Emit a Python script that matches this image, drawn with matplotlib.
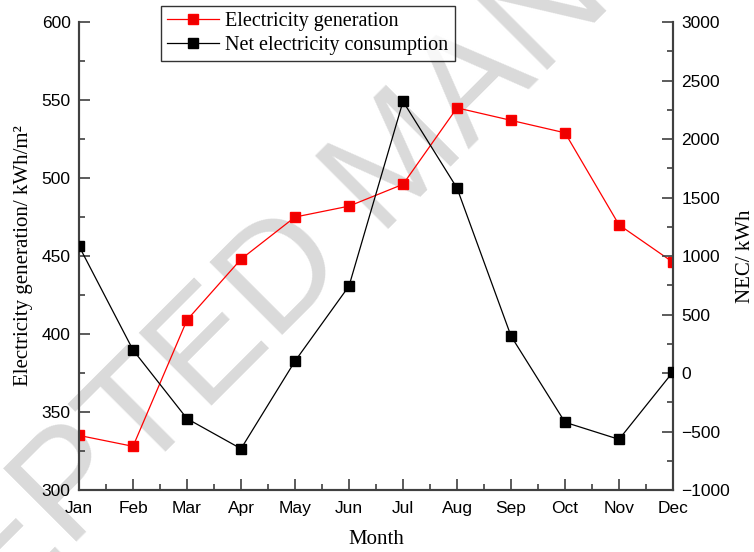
import matplotlib
matplotlib.use("Agg")
import matplotlib.pyplot as plt
from matplotlib.ticker import MultipleLocator

# Data
months = ["Jan", "Feb", "Mar", "Apr", "May", "Jun",
          "Jul", "Aug", "Sep", "Oct", "Nov", "Dec"]
generation = [335, 328, 409, 448, 475, 482, 496, 545, 537, 529, 470, 446]   # kWh/m2
nec = [1085, 197, -390, -647, 102, 744, 2322, 1581, 316, -421, -567, 10]     # kWh

serif = "Liberation Serif"
sans = "Liberation Sans"
spine_col = "#404040"

fig = plt.figure(figsize=(7.54, 5.52), dpi=100)
ax = fig.add_axes([0.1048, 0.1123, 0.7878, 0.8477])
ax2 = ax.twinx()

x = list(range(len(months)))
l1, = ax.plot(x, generation, color="#ff0000", lw=0.9, marker="s", ms=6.5,
              mec="#ff0000", mfc="#ee0000", label="Electricity generation", zorder=3)
l2, = ax2.plot(x, nec, color="black", lw=0.9, marker="s", ms=6.5,
               label="Net electricity consumption", zorder=3)

ax.set_xlim(0, 11)
ax.set_ylim(300, 600)
ax2.set_ylim(-1000, 3000)

ax.set_xticks(x)
ax.set_xticklabels(months)
ax.xaxis.set_minor_locator(MultipleLocator(0.5))
ax.yaxis.set_major_locator(MultipleLocator(50))
ax.yaxis.set_minor_locator(MultipleLocator(25))
ax2.yaxis.set_major_locator(MultipleLocator(500))
ax2.yaxis.set_minor_locator(MultipleLocator(250))

for a in (ax, ax2):
    a.spines["top"].set_visible(False)
    for s in ("left", "right", "bottom"):
        a.spines[s].set_color(spine_col)
        a.spines[s].set_linewidth(1.5)
    a.tick_params(which="major", direction="in", length=8, width=1.2, color=spine_col,
                  labelsize=12.5, pad=6)
    a.tick_params(which="minor", direction="in", length=4, width=1.2, color=spine_col)
    for lab in a.get_xticklabels() + a.get_yticklabels():
        lab.set_fontfamily(sans)
ax.tick_params(axis="x", which="both", top=False)
ax.tick_params(axis="x", pad=8)

ax.set_xlabel("Month", fontfamily=serif, fontsize=15, labelpad=10)
ax.set_ylabel("Electricity generation/ kWh/m²", fontfamily=serif, fontsize=15, labelpad=6)
ax2.set_ylabel("NEC/ kWh", fontfamily=serif, fontsize=15, labelpad=4)

ax2.set_zorder(ax.get_zorder() + 1)
ax2.patch.set_visible(False)

# watermark
ax.text(0.54, 0.70, "ACCEPTED MANUSCRIPT", transform=ax.transAxes, fontsize=108,
        fontfamily=sans, color="#dadada", rotation=45, ha="center",
        va="center", zorder=0, clip_on=False)

leg = fig.legend(handles=[l1, l2], loc="upper left", bbox_to_anchor=(161 / 754, 1 - 6 / 552),
                 prop={"family": serif, "size": 14.5}, frameon=True, fancybox=False,
                 edgecolor="black", handlelength=2.6, borderpad=0.3, labelspacing=0.25,
                 handletextpad=0.3, borderaxespad=0)
leg.get_frame().set_linewidth(1.0)

fig.savefig("out.png", dpi=100)
